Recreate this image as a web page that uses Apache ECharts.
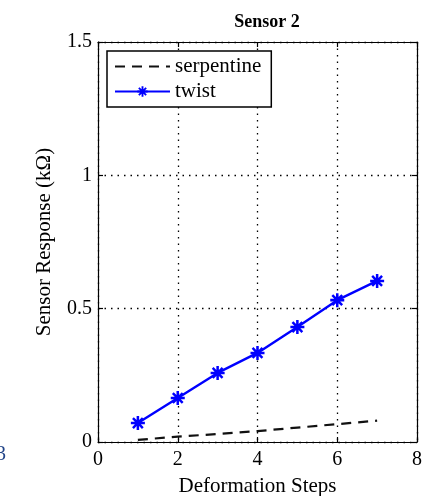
<!DOCTYPE html>
<html><head><meta charset="utf-8">
<script src="https://cdn.jsdelivr.net/npm/echarts@6/dist/echarts.min.js"></script>
<style>html,body{margin:0;padding:0;background:#fff}#c{width:434px;height:496px}</style>
</head><body><div id="c"></div>
<script>
const steps = [1, 2, 3, 4, 5, 6, 7];
const serpentine = [0.008, 0.02, 0.03, 0.041, 0.054, 0.067, 0.08];
const twist = [0.071, 0.165, 0.259, 0.334, 0.431, 0.532, 0.604];
const xTicks = [0, 2, 4, 6, 8];
const yTicks = [0, 0.5, 1, 1.5];

const F = 'Liberation Serif';
const star = 'path://M-1.8,-10L1.8,-10L1.8,-4.3L5.8,-8.3L8.3,-5.8L4.3,-1.8L10,-1.8L10,1.8L4.3,1.8L8.3,5.8L5.8,8.3L1.8,4.3L1.8,10L-1.8,10L-1.8,4.3L-5.8,8.3L-8.3,5.8L-4.3,1.8L-10,1.8L-10,-1.8L-4.3,-1.8L-8.3,-5.8L-5.8,-8.3L-1.8,-4.3Z';
const chart = echarts.init(document.getElementById('c'));
const axisCommon = {
  type: 'value',
  axisLine: {show: true, onZero: false, lineStyle: {color: '#000', width: 1.2}},
  axisTick: {show: true, inside: true, length: 5, lineStyle: {color: '#000', width: 1.2}},
  splitLine: {show: false}
};
chart.setOption({
  animation: false,
  title: {text: 'Sensor 2', left: 262, top: 8, textAlign: 'center',
    textStyle: {fontFamily: F, fontWeight: 'bold', fontSize: 18, color: '#000'}},
  grid: {left: 98, right: 17, top: 42, bottom: 54, outerBoundsMode: 'none', containLabel: false},
  legend: {
    orient: 'vertical', left: 107, top: 51,
    itemWidth: 55, itemHeight: 13, itemGap: 4,
    padding: [5, 10, 5, 7],
    borderColor: '#000', borderWidth: 1.5, backgroundColor: '#fff',
    textStyle: {fontFamily: F, fontSize: 21, color: '#000', padding: [0,0,0,0]},
    data: [{name: 'serpentine', itemStyle: {opacity: 0}}, 'twist']
  },
  xAxis: [
    Object.assign({}, axisCommon, {min: 0, max: 8, interval: 2, position: 'bottom',
      name: 'Deformation Steps', nameLocation: 'middle', nameGap: 34,
      nameTextStyle: {fontFamily: F, fontSize: 21, color: '#000'},
      axisLabel: {fontFamily: F, fontSize: 20, color: '#000', margin: 8},
      splitLine: {show: true, lineStyle: {color: '#000', type: [1.5, 5], width: 1.3}}}),
    Object.assign({}, axisCommon, {min: 0, max: 8, interval: 2, position: 'top',
      axisLabel: {show: false}})
  ],
  yAxis: [
    Object.assign({}, axisCommon, {min: 0, max: 1.5, interval: 0.5, position: 'left',
      name: 'Sensor Response (kΩ)', nameLocation: 'middle', nameGap: 43,
      nameTextStyle: {fontFamily: F, fontSize: 21, color: '#000'},
      axisLabel: {fontFamily: F, fontSize: 20, color: '#000', margin: 6},
      splitLine: {show: true, lineStyle: {color: '#000', type: [1.5, 5], width: 1.3}}}),
    Object.assign({}, axisCommon, {min: 0, max: 1.5, interval: 0.5, position: 'right',
      axisLabel: {show: false}})
  ],
  series: [
    {name: 'serpentine', type: 'line', showSymbol: false, symbol: 'none',
      data: steps.map((x, i) => [x, serpentine[i]]),
      lineStyle: {color: '#111', width: 2.2, type: [10, 7]}, itemStyle: {color: '#000'}},
    {name: 'twist', type: 'line', symbol: star, symbolSize: 14,
      data: steps.map((x, i) => [x, twist[i]]),
      lineStyle: {color: '#0000ff', width: 2.4}, itemStyle: {color: '#0000ff'}}
  ],
  graphic: [{type: 'text', left: -4, top: 445, style: {text: '3', fontFamily: F, fontSize: 20, fill: '#224488'}}]
});
</script></body></html>
